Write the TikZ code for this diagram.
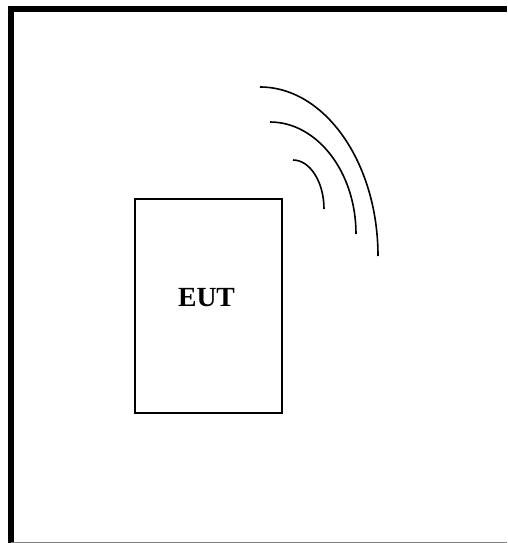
\documentclass[tikz,border=0pt]{standalone}
\usepackage{fontspec}
\setmainfont{Liberation Serif}
\tikzset{
  wave/.style={draw=black,line width=1.6pt},
  eutbox/.style={draw=black,line width=1.6pt,minimum width=147pt,minimum height=214pt,inner sep=0pt},
  eutlabel/.style={font=\fontsize{27.7pt}{30pt}\selectfont\bfseries,inner sep=0pt,anchor=base},
  frame/.style={draw=black,line width=6pt,line cap=butt}
}
\begin{document}
\begin{tikzpicture}[x=1pt,y=-1pt]
\useasboundingbox (0,0) rectangle (507,543);
\fill[white] (0,0) rectangle (507,543);
\node[eutbox] (eut) at (208.5,306) {};
\node[eutlabel] (lbl) at (206.5,306.7) {EUT};
% chamber frame
\coordinate (fbl) at (11,543);
\coordinate (ftl) at (11,9.5);
\coordinate (ftr) at (507,9.5);
\draw[frame,line join=miter] (fbl) -- (ftl) -- (ftr);
\coordinate (bl) at (11,542);
\coordinate (br) at (507,542);
\draw[gray,line width=1pt] (bl) -- (br);
% waves
\draw[wave] (260,87) .. controls (325,87) and (378,163) .. (378,256);
\draw[wave] (270,122) .. controls (317,122) and (356,172) .. (356,234);
\draw[wave] (293,160) .. controls (310,160) and (324,182) .. (324,209);
\end{tikzpicture}
\end{document}
